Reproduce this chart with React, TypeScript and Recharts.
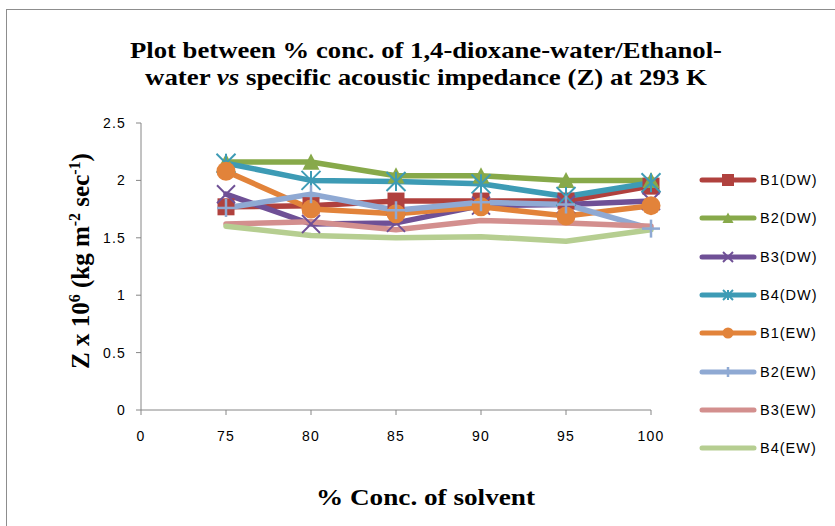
import React from 'react';
import { LineChart, Line, XAxis, YAxis } from 'recharts';

const categories = ['0', '75', '80', '85', '90', '95', '100'];

const b1dw = [null, 1.77, 1.78, 1.82, 1.82, 1.82, 1.95];
const b2dw = [null, 2.16, 2.16, 2.04, 2.04, 2.0, 2.0];
const b3dw = [null, 1.88, 1.62, 1.63, 1.78, 1.79, 1.82];
const b4dw = [null, 2.15, 2.0, 1.99, 1.97, 1.86, 1.98];
const b1ew = [null, 2.08, 1.75, 1.71, 1.77, 1.69, 1.78];
const b2ew = [null, 1.76, 1.88, 1.74, 1.81, 1.79, 1.58];
const b3ew = [null, 1.62, 1.64, 1.57, 1.65, 1.63, 1.6];
const b4ew = [null, 1.6, 1.52, 1.5, 1.51, 1.47, 1.57];

const seriesNames = ['B1(DW)', 'B2(DW)', 'B3(DW)', 'B4(DW)', 'B1(EW)', 'B2(EW)', 'B3(EW)', 'B4(EW)'];
const seriesValues = [b1dw, b2dw, b3dw, b4dw, b1ew, b2ew, b3ew, b4ew];
const seriesColors = ['#B0413E', '#87A94A', '#6F5096', '#3D9BB5', '#E2833A', '#8FA9D3', '#D38F8E', '#B6CE91'];
const seriesMarkers = ['square', 'triangle', 'x', 'asterisk', 'circle', 'plus', 'none', 'none'];

const yTicks = [0, 0.5, 1, 1.5, 2, 2.5];

const data = categories.map((c, i) => {
  const row: any = { cat: c };
  seriesValues.forEach((vals, k) => {
    row['s' + k] = vals[i];
  });
  return row;
});

function Marker({ type, cx, cy, color, s }: any) {
  const h = s / 2;
  switch (type) {
    case 'square':
      return <rect x={cx - h} y={cy - h} width={s} height={s} fill={color} />;
    case 'triangle':
      return <polygon points={`${cx},${cy - h} ${cx + h},${cy + h * 0.9} ${cx - h},${cy + h * 0.9}`} fill={color} />;
    case 'x':
      return (
        <g stroke={color} strokeWidth={2}>
          <line x1={cx - h} y1={cy - h} x2={cx + h} y2={cy + h} />
          <line x1={cx - h} y1={cy + h} x2={cx + h} y2={cy - h} />
        </g>
      );
    case 'asterisk':
      return (
        <g stroke={color} strokeWidth={2}>
          <line x1={cx - h} y1={cy - h} x2={cx + h} y2={cy + h} />
          <line x1={cx - h} y1={cy + h} x2={cx + h} y2={cy - h} />
          <line x1={cx} y1={cy - h} x2={cx} y2={cy + h} />
        </g>
      );
    case 'circle':
      return <circle cx={cx} cy={cy} r={h} fill={color} />;
    case 'plus':
      return (
        <g stroke={color} strokeWidth={2.5}>
          <line x1={cx} y1={cy - h} x2={cx} y2={cy + h} />
          <line x1={cx - h} y1={cy} x2={cx + h} y2={cy} />
        </g>
      );
    default:
      return null;
  }
}

const markerSize: any = { square: 17, triangle: 17, x: 18, asterisk: 19, circle: 19, plus: 18 };
const legendMarkerSize: any = { square: 12, triangle: 11, x: 10, asterisk: 10, circle: 11, plus: 10 };

const serif = '"Liberation Serif", "Times New Roman", serif';
const sans = '"Liberation Sans", Arial, sans-serif';

export default function App() {
  return (
    <div style={{ position: 'absolute', left: 0, top: 0, width: 835, height: 526, background: '#fff', overflow: 'hidden' }}>
      <div
        style={{
          position: 'absolute',
          left: 6,
          top: 9,
          width: 900,
          height: 600,
          border: '1.5px solid #8d8d8d',
        }}
      />
      <div style={{ position: 'absolute', left: 0, top: 0 }}>
        <LineChart width={835} height={526} data={data} margin={{ top: 123, right: 184, bottom: 86, left: 101 }}>
          <XAxis
            dataKey="cat"
            interval={0}
            tickSize={5}
            tickMargin={16}
            stroke="#868686"
            tick={{ fill: '#000', fontSize: 14, fontFamily: sans, letterSpacing: 1.2 }}
            axisLine={{ stroke: '#868686' }}
            tickLine={{ stroke: '#868686' }}
          />
          <YAxis
            domain={[0, 2.5]}
            ticks={yTicks}
            width={40}
            tickSize={5}
            tickMargin={10}
            tick={{ fill: '#000', fontSize: 14, fontFamily: sans, letterSpacing: 1.2 }}
            axisLine={{ stroke: '#868686' }}
            tickLine={{ stroke: '#868686' }}
            tickFormatter={(v: number) => String(v)}
          />
          {seriesNames.map((name, k) => (
            <Line
              key={name}
              name={name}
              dataKey={'s' + k}
              type="linear"
              stroke={seriesColors[k]}
              strokeWidth={5.5}
              strokeLinejoin="round"
              strokeLinecap="round"
              isAnimationActive={false}
              connectNulls={false}
              activeDot={false}
              dot={
                seriesMarkers[k] === 'none'
                  ? false
                  : (p: any) => {
                      const { cx, cy, index, value } = p;
                      if (value == null || cx == null || cy == null) return <g key={`e${k}-${index}`} />;
                      return (
                        <g key={`d${k}-${index}`}>
                          <Marker type={seriesMarkers[k]} cx={cx} cy={cy} color={seriesColors[k]} s={markerSize[seriesMarkers[k]]} />
                        </g>
                      );
                    }
              }
            />
          ))}
        </LineChart>
      </div>
      <svg width={835} height={526} style={{ position: 'absolute', left: 0, top: 0, pointerEvents: 'none' }}>
        <text
          x={130}
          y={58}
          textLength={592}
          lengthAdjust="spacingAndGlyphs"
          fontFamily={serif}
          fontWeight="bold"
          fontSize={24}
          fill="#000"
        >
          Plot between % conc. of 1,4-dioxane-water/Ethanol-
        </text>
        <text
          x={145}
          y={85}
          textLength={562}
          lengthAdjust="spacingAndGlyphs"
          fontFamily={serif}
          fontWeight="bold"
          fontSize={24}
          fill="#000"
        >
          water <tspan fontStyle="italic"> vs</tspan> specific acoustic impedance (Z) at 293 K
        </text>
        <text
          x={316}
          y={505}
          textLength={219}
          lengthAdjust="spacingAndGlyphs"
          fontFamily={serif}
          fontWeight="bold"
          fontSize={24}
          fill="#000"
        >
          %  Conc. of solvent
        </text>
        <text
          transform="translate(89,261) rotate(-90)"
          textAnchor="middle"
          fontFamily={serif}
          fontWeight="bold"
          fontSize={25}
          fill="#000"
        >
          Z x 10<tspan dy={-9} fontSize={16}>6</tspan>
          <tspan dy={9}> (kg m</tspan>
          <tspan dy={-9} fontSize={16}>-2</tspan>
          <tspan dy={9}> sec</tspan>
          <tspan dy={-9} fontSize={16}>-1</tspan>
          <tspan dy={9}>)</tspan>
        </text>
      </svg>
      <div style={{ position: 'absolute', left: 698, top: 161 }}>
        {seriesNames.map((name, k) => (
          <div key={name} style={{ display: 'flex', alignItems: 'center', height: 38.3 }}>
            <svg width={60} height={18}>
              <line x1={4} y1={9} x2={56} y2={9} stroke={seriesColors[k]} strokeWidth={5} strokeLinecap="round" />
              {seriesMarkers[k] !== 'none' && (
                <Marker type={seriesMarkers[k]} cx={30} cy={9} color={seriesColors[k]} s={legendMarkerSize[seriesMarkers[k]]} />
              )}
            </svg>
            <span style={{ fontFamily: sans, fontSize: 14.5, color: '#000', marginLeft: 2, letterSpacing: 1 }}>{name}</span>
          </div>
        ))}
      </div>
    </div>
  );
}
